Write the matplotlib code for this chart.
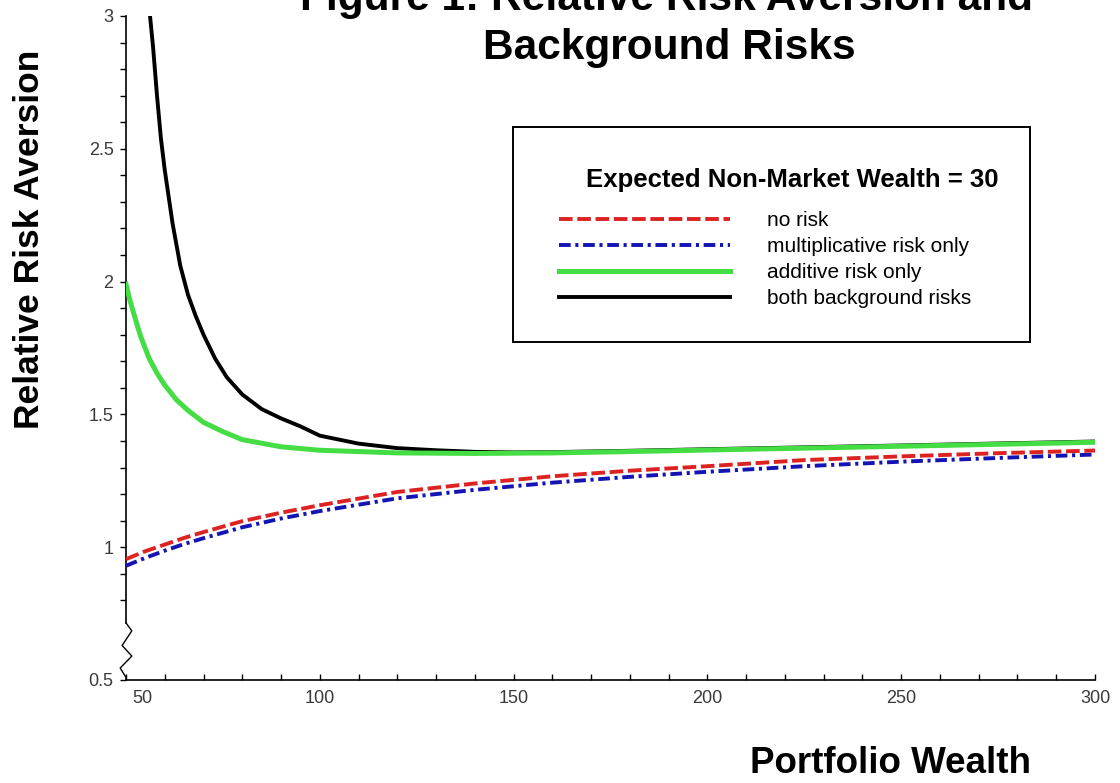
import matplotlib
matplotlib.use('Agg')
from matplotlib import pyplot as plt
from matplotlib.patches import Rectangle
from matplotlib import transforms
import numpy as np

plt.rcParams['font.family'] = ['Liberation Sans', 'DejaVu Sans']

# portfolio wealth / relative risk aversion
x_none = [50, 55, 60, 65, 70, 80, 90, 100, 120, 140, 160, 180, 200, 225, 250, 275, 300]
rra_none = [0.955, 0.985, 1.01, 1.035, 1.057, 1.098, 1.13, 1.158, 1.208, 1.24, 1.267,
            1.288, 1.305, 1.328, 1.342, 1.354, 1.364]

x_mult = [50, 55, 60, 65, 70, 80, 90, 100, 120, 140, 160, 180, 200, 225, 250, 275, 300]
rra_mult = [0.93, 0.96, 0.987, 1.012, 1.034, 1.075, 1.108, 1.136, 1.184, 1.216, 1.243,
            1.265, 1.284, 1.305, 1.322, 1.336, 1.349]

x_add = [50, 51, 52, 53, 54, 56, 58, 60, 63, 66, 70, 75, 80, 90, 100, 120, 140, 160,
         180, 200, 250, 300]
rra_add = [1.99, 1.93, 1.88, 1.83, 1.785, 1.71, 1.655, 1.61, 1.555, 1.515, 1.47, 1.435,
           1.405, 1.378, 1.365, 1.355, 1.353, 1.355, 1.36, 1.366, 1.38, 1.395]

x_both = [56.2, 57, 58, 59, 60, 62, 64, 66, 68, 70, 73, 76, 80, 85, 90, 95, 100, 110,
          120, 130, 140, 150, 160, 180, 200, 250, 300]
rra_both = [3.0, 2.88, 2.70, 2.54, 2.42, 2.22, 2.06, 1.95, 1.87, 1.80, 1.71, 1.64, 1.575,
            1.52, 1.485, 1.455, 1.42, 1.39, 1.373, 1.365, 1.359, 1.357, 1.358, 1.363,
            1.369, 1.383, 1.398]

labels = ['no risk', 'multiplicative risk only', 'additive risk only',
          'both background risks']
xticks = [50, 100, 150, 200, 250, 300]
yticks = [0.5, 1, 1.5, 2, 2.5, 3]
yticklabels = ['0.5', '1', '1.5', '2', '2.5', '3']

fig = plt.figure(figsize=(11.2, 7.83), dpi=100)
ax = fig.add_axes([126/1120, 1 - 680/783, (1095-126)/1120, (680-16)/783])

l_both, = ax.plot(x_both, rra_both, color='black', lw=2.8, zorder=2)
l_add, = ax.plot(x_add, rra_add, color='#44dd44', lw=3.6, zorder=3)
l_mult, = ax.plot(x_mult, rra_mult, color='#1414b4', lw=2.8, dashes=(3.0, 1.2, 0.8, 1.2), zorder=4)
l_none, = ax.plot(x_none, rra_none, color='#dd2222', lw=2.8, dashes=(3.5, 1.2), zorder=5)

ax.set_xlim(50, 300)
ax.set_ylim(0.5, 3)
ax.spines['top'].set_visible(False)
ax.spines['right'].set_visible(False)
ax.spines['left'].set_bounds(0.715, 3)
ax.spines['left'].set_linewidth(1.2)
ax.spines['bottom'].set_linewidth(1.2)

ax.set_xticks(xticks)
ax.set_xticks(np.arange(50, 301, 10), minor=True)
ax.set_yticks(yticks)
ax.set_yticklabels(yticklabels)
ax.set_yticks(np.arange(0.8, 3.01, 0.1), minor=True)
ax.tick_params(axis='x', which='both', direction='in', length=4, width=1, pad=7)
ax.tick_params(axis='y', which='both', direction='out', length=4, width=1, pad=5)
ax.tick_params(labelsize=13, labelcolor='#3a3a3a')
# nudge the "50" label right like the original
off = transforms.ScaledTranslation(12/72, 0, fig.dpi_scale_trans)
ax.get_xticklabels()[0].set_transform(ax.get_xticklabels()[0].get_transform() + off)

# axis break zigzag
bt = transforms.blended_transform_factory(ax.transAxes, ax.transData)
zx = [0, 0.006, -0.004, 0.006, -0.006, 0, 0]
zy = [0.715, 0.685, 0.63, 0.59, 0.545, 0.51, 0.5]
ax.plot(zx, zy, color='black', lw=1.0, transform=bt, clip_on=False)

# legend
fig.patches.append(Rectangle((513/1120, 1 - 342/783), (1030-513)/1120, (342-127)/783,
                             transform=fig.transFigure, fill=False, ec='black', lw=1.4))
fig.text(792/1120, 1 - 180/783, 'Expected Non-Market Wealth = 30', ha='center',
         va='center', fontsize=18.5, fontweight='bold')
ax.legend([l_none, l_mult, l_add, l_both], labels, loc='upper left',
          bbox_to_anchor=(559/1120, 1 - 211/783), bbox_transform=fig.transFigure,
          frameon=False, fontsize=15, handlelength=8.2, handletextpad=1.8,
          labelspacing=0.34, borderpad=0, borderaxespad=0)

fig.text(666/1120, 1 - 10/783, 'Figure 1: Relative Risk Aversion and', ha='center',
         va='baseline', fontsize=30.5, fontweight='bold')
fig.text(669/1120, 1 - 59/783, 'Background Risks', ha='center', va='baseline',
         fontsize=30.5, fontweight='bold')
fig.text(30/1120, 1 - 239/783, 'Relative Risk Aversion', rotation=90, ha='center',
         va='center', fontsize=25.5, fontweight='bold')
fig.text(891/1120, 1 - 773/783, 'Portfolio Wealth', ha='center', va='baseline',
         fontsize=26.5, fontweight='bold')

fig.savefig('out.png', dpi=100)
